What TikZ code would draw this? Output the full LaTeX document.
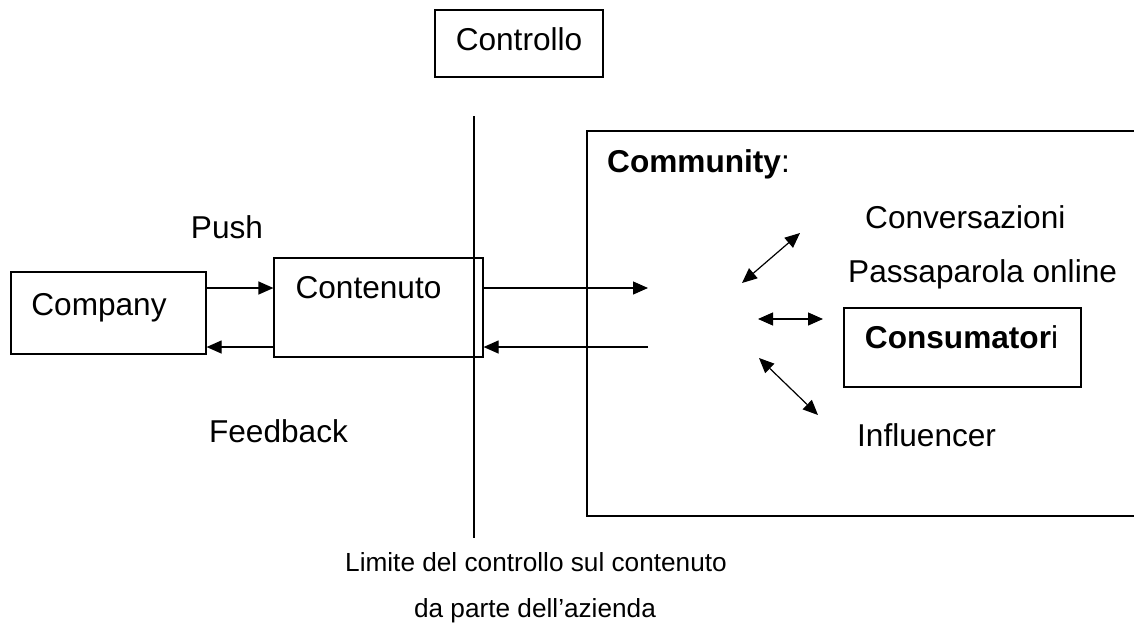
\documentclass[tikz,border=0pt]{standalone}
\usepackage{fontspec}
\setmainfont{Liberation Sans}
\usetikzlibrary{arrows.meta}
\begin{document}
\begin{tikzpicture}[x=1pt,y=-1pt,
  box/.style={draw,line width=1.2pt,inner sep=0pt},
  txt/.style={inner sep=0pt,font=\fontsize{31.6}{36}\selectfont,anchor=base},
  small/.style={inner sep=0pt,font=\fontsize{26.2}{30}\selectfont,anchor=base},
  arr/.style={line width=1.2pt,-{Triangle[length=15pt,width=13pt]}},
  darr/.style={line width=1.2pt,{Triangle[length=15pt,width=13pt]}-{Triangle[length=15pt,width=13pt]}}]
\useasboundingbox (0,0) rectangle (1134,624);
% boxes
\node[box,minimum width=168pt,minimum height=67pt] (controllo) at (519,43.5) {};
\node[txt] (controllot) at (519,50) {Controllo};
\node[box,minimum width=195pt,minimum height=82pt] (company) at (108.5,313) {};
\node[txt] (companyt) at (99,315) {Company};
\node[box,minimum width=209pt,minimum height=99pt] (contenuto) at (378.5,307.5) {};
\node[txt] (contenutot) at (368.5,298) {Contenuto};
\node[box,minimum width=237pt,minimum height=79pt] (consumatori) at (962.5,347.5) {};
\node[txt] (consumatorit) at (961.5,348) {\textbf{Consumator}i};
% community frame
\draw[line width=1.2pt] (1140,131) -- (587,131) -- (587,516) -- (1140,516);
\node[txt,anchor=base west] (community) at (607,172) {\textbf{Community}:};
% labels
\node[txt] (push) at (227,238) {Push};
\node[txt] (feedback) at (278.5,442) {Feedback};
\node[txt,anchor=base west] (conv) at (865,228) {Conversazioni};
\node[txt,anchor=base west] (passa) at (848,282) {Passaparola online};
\node[txt,anchor=base west] (infl) at (857,446) {Influencer};
\node[small] (lim1) at (536,571) {Limite del controllo sul contenuto};
\node[small] (lim2) at (535,617) {da parte dell’azienda};
% boundary line
\coordinate (ltop) at (474,116);
\coordinate (lbot) at (474,538);
\draw[line width=1.2pt] (ltop) -- (lbot);
% flow arrows
\coordinate (pin) at (648,288);
\coordinate (pout) at (648,347);
\draw[arr] (company.east |- pin) -- (contenuto.west |- pin);
\draw[arr] (contenuto.west |- pout) -- (company.east |- pout);
\draw[arr] (contenuto.east |- pin) -- (pin);
\draw[arr] (pout) -- (contenuto.east |- pout);
% community arrows
\coordinate (a1) at (742,283); \coordinate (a2) at (800,233);
\coordinate (b1) at (758,319); \coordinate (b2) at (823,319);
\coordinate (c1) at (759,358); \coordinate (c2) at (818,415);
\draw[darr] (a1) -- (a2);
\draw[darr] (b1) -- (b2);
\draw[darr] (c1) -- (c2);
\end{tikzpicture}
\end{document}
